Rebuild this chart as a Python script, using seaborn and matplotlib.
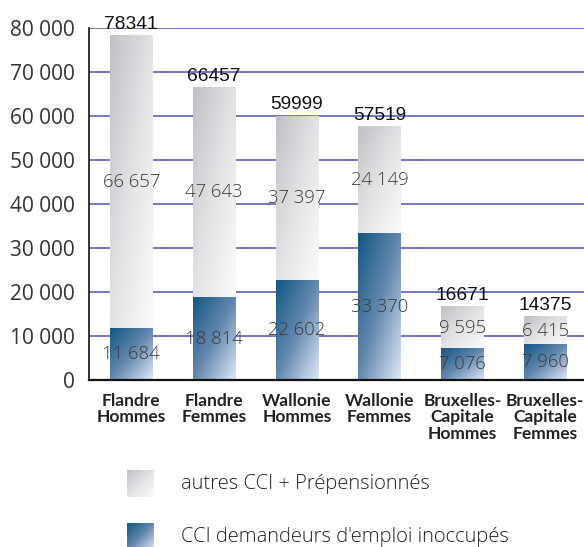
import matplotlib
matplotlib.use('Agg')
import matplotlib.pyplot as plt
from matplotlib.colors import LinearSegmentedColormap
import numpy as np
import pandas as pd
import seaborn as sns

# data
categories = ['Flandre\nHommes', 'Flandre\nFemmes', 'Wallonie\nHommes', 'Wallonie\nFemmes',
              'Bruxelles-\nCapitale\nHommes', 'Bruxelles-\nCapitale\nFemmes']
demandeurs = [11684, 18814, 22602, 33370, 7076, 7960]
autres = [66657, 47643, 37397, 24149, 9595, 6415]
totals = [a + d for a, d in zip(autres, demandeurs)]
yticks = [0, 10000, 20000, 30000, 40000, 50000, 60000, 70000, 80000]
legend_labels = ['autres CCI + Prépensionnés', "CCI demandeurs d'emploi inoccupés"]

df = pd.DataFrame({'cat': categories, 'total': totals, 'dem': demandeurs, 'autres': autres})

sns.set_style('white')
plt.rcParams['font.family'] = ['Open Sans', 'DejaVu Sans']

grey_cmap = LinearSegmentedColormap.from_list('grey', ['#c0c1c4', '#e2e3e5', '#fbfbfb'])
blue_cmap = LinearSegmentedColormap.from_list('blue', ['#125884', '#6488ae', '#dde8f8'])


def gradient(n=64):
    # top-left (0) to bottom-right (1)
    u = np.linspace(0, 1, n)
    xx, yy = np.meshgrid(u, u)
    return (xx + yy) / 2


fig = plt.figure(figsize=(5.84, 5.47), dpi=100)
ax = fig.add_axes([0.1524, 0.3053, 0.8476, 0.6435])

# 1. Stacked bars: totals (grey part) then the blue part on top of it
sns.barplot(data=df, x='cat', y='total', color='#dddddd', width=0.51, ax=ax)
sns.barplot(data=df, x='cat', y='dem', color='#5a82a8', width=0.51, ax=ax)

# 2. Replace flat fills by diagonal gradients
n = len(categories)
for i, p in enumerate(ax.patches):
    x0, w = p.get_x(), p.get_width()
    if i < n:
        y0, h, cmap = demandeurs[i], autres[i], grey_cmap
    else:
        y0, h, cmap = 0, p.get_height(), blue_cmap
    p.set_visible(False)
    ax.imshow(gradient(), cmap=cmap, extent=[x0, x0 + w, y0, y0 + h], origin='upper',
              aspect='auto', zorder=2, interpolation='bilinear')

# 3. Value labels
for i in range(n):
    ax.text(i, demandeurs[i] / 2, f"{demandeurs[i]:,}".replace(',', ' '), ha='center', va='center',
            fontsize=13.3, color='#3a3a3a', fontweight='light', zorder=4)
    ax.text(i, demandeurs[i] + autres[i] / 2, f"{autres[i]:,}".replace(',', ' '), ha='center',
            va='center', fontsize=13.3, color='#3a3a3a', fontweight='light', zorder=4)
    ax.annotate(str(totals[i]), (i, totals[i]), xytext=(0, 2), textcoords='offset points',
                ha='center', va='bottom', fontsize=13.8, color='#111111',
                family='Liberation Sans', zorder=4)

ax.set_xlim(-0.51, 5.47)
ax.set_ylim(0, 80000)
ax.set_yticks(yticks)
ax.set_yticklabels([f"{v:,}".replace(',', ' ') for v in yticks], fontsize=15, color='#333333')
ax.set_xticks(range(n))
ax.set_xticklabels(categories, fontsize=12.5, fontweight='bold', color='#222222',
                   linespacing=1.05, family=['Lato', 'DejaVu Sans'])
ax.tick_params(axis='y', length=0, pad=10)
ax.tick_params(axis='x', length=0, pad=9)
ax.set_xlabel('')
ax.set_ylabel('')

ax.yaxis.grid(True, color='#6a6abf', linewidth=1.3)
ax.set_axisbelow(True)
for s in ['top', 'right']:
    ax.spines[s].set_visible(False)
ax.spines['left'].set_color('#111111')
ax.spines['left'].set_linewidth(1.2)
ax.spines['bottom'].set_color('#111111')
ax.spines['bottom'].set_linewidth(1.6)

# 4. Legend drawn by hand below the chart
for k, (lab, cmap) in enumerate(zip(legend_labels, [grey_cmap, blue_cmap])):
    top = 470 + k * 53
    sw = fig.add_axes([127 / 584, 1 - (top + 27) / 547, 27 / 584, 27 / 547])
    sw.imshow(gradient(), cmap=cmap, aspect='auto', interpolation='bilinear')
    sw.axis('off')
    fig.text(181 / 584, 1 - (top + 14) / 547, lab, ha='left', va='center',
             fontsize=14.5, color='#222222', fontweight='light')

fig.savefig('out.png', dpi=100)
